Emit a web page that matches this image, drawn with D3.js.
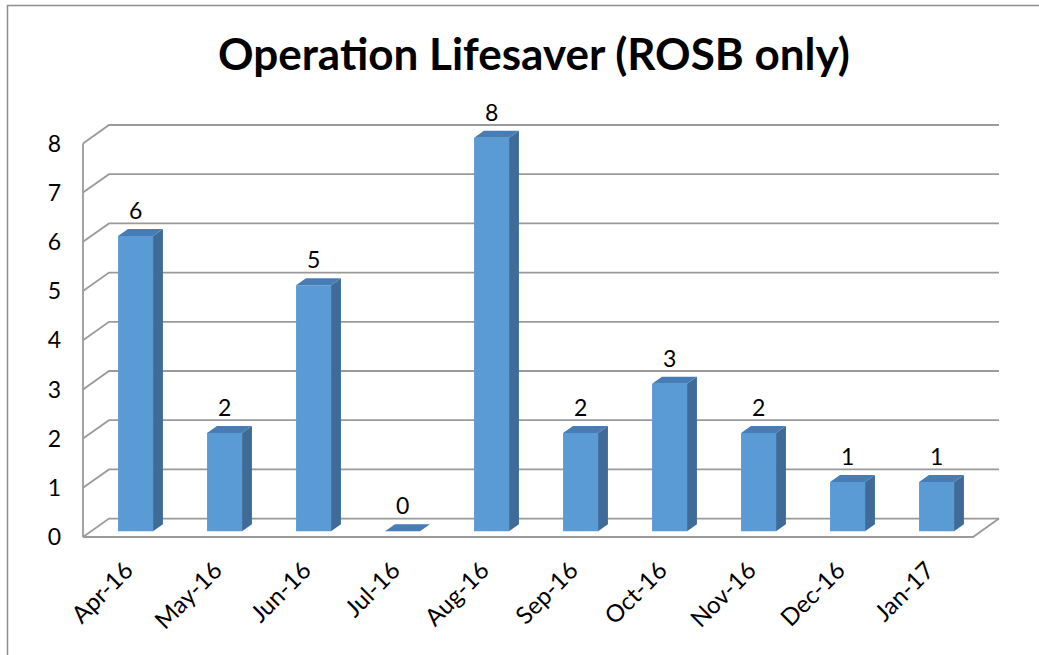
<!DOCTYPE html>
<html>
<head>
<meta charset="utf-8">
<script src="https://cdn.jsdelivr.net/npm/d3@7"></script>
<style>
  body { margin: 0; background: #fff; }
  svg text { font-family: Lato, "Open Sans", sans-serif; fill: #000; }
</style>
</head>
<body>
<div id="chart"></div>
<script>
// Data
const months = ["Apr-16", "May-16", "Jun-16", "Jul-16", "Aug-16", "Sep-16", "Oct-16", "Nov-16", "Dec-16", "Jan-17"];
const counts = [6, 2, 5, 0, 8, 2, 3, 2, 1, 1];
const yTicks = [0, 1, 2, 3, 4, 5, 6, 7, 8];
const title = "Operation Lifesaver (ROSB only)";

// Chart dimensions
const W = 1039, H = 655;
const plot = { left: 83, right: 973, front0: 537, unit: 49.2 };
const depth = { dx: 26, dy: 18.4 };   // wall depth (3D offset)
const barDepth = [0.31, 0.69];      // bar sits in the middle of the floor depth
const barWidth = 35;

const svg = d3.select("#chart").append("svg")
    .attr("width", W)
    .attr("height", H);

// Scales (front plane)
const x = d3.scaleBand().domain(months).range([plot.left, plot.right]);
const y = d3.scaleLinear().domain([0, 8]).range([plot.front0, plot.front0 - 8 * plot.unit]);

// project a point at depth d (0 = front, 1 = back wall)
const P = (px, py, d) => [px + d * depth.dx, py - d * depth.dy];

// Outer frame (left + top only visible)
svg.append("path")
    .attr("d", `M7.5,${H} L7.5,5.5 L${W},5.5`)
    .attr("fill", "none")
    .attr("stroke", "#8e8e8e")
    .attr("stroke-width", 1.5);

// Title
const titleText = svg.append("text")
    .attr("x", 534)
    .attr("y", 70)
    .attr("text-anchor", "middle")
    .style("font-weight", "bold")
    .style("font-size", "40px")
    .text(title);
const tw = titleText.node().getComputedTextLength();
titleText.style("font-size", (40 * 632 / tw) + "px");

const gridColor = "#9a9a9a";

// Gridlines: left wall diagonal + back wall line
const grid = svg.append("g");
yTicks.forEach(v => {
    const a = [plot.left, y(v)];
    const b = P(plot.left, y(v), 1);
    const c = P(plot.right, y(v), 1);
    grid.append("path")
        .attr("d", `M${a} L${b} L${c}`)
        .attr("fill", "none")
        .attr("stroke", gridColor)
        .attr("stroke-width", 1.8);
});

// Floor front edge and right edge
const fr = P(plot.right, y(0), 1);
grid.append("path")
    .attr("d", `M${plot.left},${y(0)} L${plot.right},${y(0)} L${fr}`)
    .attr("fill", "none")
    .attr("stroke", gridColor)
    .attr("stroke-width", 1.8);

// Y axis line
grid.append("line")
    .attr("x1", plot.left).attr("x2", plot.left)
    .attr("y1", y(0)).attr("y2", y(8))
    .attr("stroke", gridColor)
    .attr("stroke-width", 1.8);

// Y tick labels
svg.append("g").selectAll("text")
    .data(yTicks)
    .join("text")
    .attr("x", 61)
    .attr("y", d => y(d))
    .attr("dy", "0.36em")
    .attr("text-anchor", "end")
    .style("font-size", "23px")
    .text(d => d);

// Bars (front, side, top faces)
const colors = { front: "#5b9bd5", side: "#3e6b98", top: "#477db7" };
const bars = svg.append("g").selectAll("g")
    .data(months.map((m, i) => ({ month: m, value: counts[i] })))
    .join("g");

bars.each(function(d) {
    const g = d3.select(this);
    const cx = x(d.month) + x.bandwidth() / 2;
    const x0 = cx - barWidth / 2, x1 = cx + barWidth / 2;
    const [d0, d1] = barDepth;
    const fbl = P(x0, y(0), d0), fbr = P(x1, y(0), d0);
    const ftl = P(x0, y(d.value), d0), ftr = P(x1, y(d.value), d0);
    const btl = P(x0, y(d.value), d1), btr = P(x1, y(d.value), d1);
    const bbr = P(x1, y(0), d1);
    if (d.value > 0) {
        g.append("path")
            .attr("d", `M${fbr} L${bbr} L${btr} L${ftr}Z`)
            .attr("fill", colors.side);
        g.append("path")
            .attr("d", `M${fbl} L${fbr} L${ftr} L${ftl}Z`)
            .attr("fill", colors.front);
    }
    g.append("path")
        .attr("d", `M${ftl} L${ftr} L${btr} L${btl}Z`)
        .attr("fill", colors.top);

    // data label
    g.append("text")
        .attr("x", ftl[0] + barWidth / 2)
        .attr("y", ftl[1] - 17)
        .attr("text-anchor", "middle")
        .style("font-size", "23px")
        .text(d.value);
});

// X tick labels (rotated)
svg.append("g").selectAll("text")
    .data(months)
    .join("text")
    .attr("text-anchor", "end")
    .attr("transform", d => `translate(${x(d) + x.bandwidth() / 2 + 7},${y(0) + 35}) rotate(-45)`)
    .style("font-size", "24px")
    .text(d => d);
</script>
</body>
</html>
